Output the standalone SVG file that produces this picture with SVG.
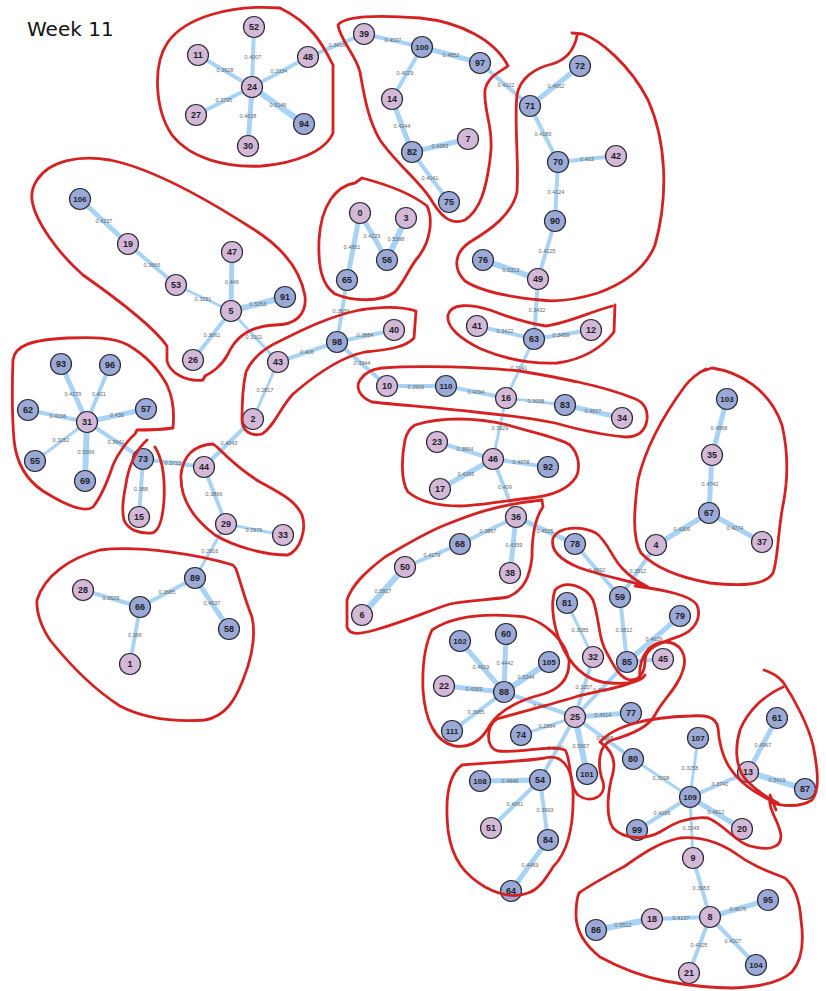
<svg xmlns="http://www.w3.org/2000/svg" width="826" height="991" viewBox="0 0 826 991">
<style>
.e{stroke:#a9d3f5;stroke-linecap:round}
.w3{stroke-width:3}.w4{stroke-width:4}.w5{stroke-width:5}.w6{stroke-width:6}
.el{font-family:"Liberation Sans",Arial,sans-serif;font-size:5.5px;fill:#666;text-anchor:middle}
.p{fill:#d3b9d7;stroke:#2a2a35;stroke-width:1.2}
.b{fill:#9ba9d6;stroke:#2a2a35;stroke-width:1.2}
.nl{font-family:"Liberation Sans",Arial,sans-serif;font-size:9px;font-weight:bold;fill:#1e1e28;text-anchor:middle}
.nl3{font-size:8px}
.h{fill:none;stroke:#d42222;stroke-width:2.8;stroke-linecap:round;stroke-linejoin:round}
.title{font-family:"DejaVu Sans",Verdana,sans-serif;font-size:20px;fill:#111}
</style>
<rect width="826" height="991" fill="#fff"/>
<text class="title" x="27" y="36">Week 11</text>

<g id="connectors">
<line class="e w4" x1="252" y1="87" x2="254" y2="27"/><text class="el" x="253" y="59">0.4007</text>
<line class="e w4" x1="252" y1="87" x2="198" y2="55"/><text class="el" x="225" y="72">0.3928</text>
<line class="e w4" x1="252" y1="87" x2="308" y2="57"/><text class="el" x="279" y="73">0.3334</text>
<line class="e w4" x1="252" y1="87" x2="196" y2="115"/><text class="el" x="224" y="102">0.3795</text>
<line class="e w6" x1="252" y1="87" x2="304" y2="124"/><text class="el" x="278" y="107">0.5146</text>
<line class="e w5" x1="252" y1="87" x2="248" y2="146"/><text class="el" x="248" y="118">0.4638</text>
<line class="e w4" x1="308" y1="57" x2="364" y2="34"/><text class="el" x="337" y="47">0.3416</text>
<line class="e w4" x1="364" y1="34" x2="422" y2="47"/><text class="el" x="393" y="42">0.4027</text>
<line class="e w5" x1="422" y1="47" x2="480" y2="63"/><text class="el" x="451" y="57">0.4852</text>
<line class="e w4" x1="422" y1="47" x2="392" y2="99"/><text class="el" x="405" y="75">0.4029</text>
<line class="e w5" x1="392" y1="99" x2="412" y2="152"/><text class="el" x="402" y="128">0.4244</text>
<line class="e w5" x1="412" y1="152" x2="468" y2="139"/><text class="el" x="440" y="148">0.4383</text>
<line class="e w4" x1="412" y1="152" x2="449" y2="202"/><text class="el" x="430" y="180">0.4141</text>
<line class="e w4" x1="480" y1="63" x2="530" y2="106"/><text class="el" x="506" y="87">0.4102</text>
<line class="e w5" x1="530" y1="106" x2="580" y2="66"/><text class="el" x="556" y="88">0.4962</text>
<line class="e w4" x1="530" y1="106" x2="558" y2="162"/><text class="el" x="543" y="136">0.4189</text>
<line class="e w4" x1="558" y1="162" x2="616" y2="156"/><text class="el" x="587" y="161">0.403</text>
<line class="e w4" x1="558" y1="162" x2="555" y2="221"/><text class="el" x="556" y="194">0.4124</text>
<line class="e w4" x1="555" y1="221" x2="538" y2="279"/><text class="el" x="547" y="253">0.4125</text>
<line class="e w6" x1="483" y1="260" x2="538" y2="279"/><text class="el" x="511" y="272">0.5313</text>
<line class="e w4" x1="538" y1="279" x2="534" y2="339"/><text class="el" x="537" y="312">0.3432</text>
<line class="e w4" x1="477" y1="326" x2="534" y2="339"/><text class="el" x="505" y="333">0.3422</text>
<line class="e w4" x1="534" y1="339" x2="591" y2="330"/><text class="el" x="561" y="337">0.3459</text>
<line class="e w3" x1="534" y1="339" x2="506" y2="398"/><text class="el" x="519" y="370">0.3141</text>
<line class="e w5" x1="80" y1="199" x2="128" y2="244"/><text class="el" x="104" y="223">0.4237</text>
<line class="e w4" x1="128" y1="244" x2="176" y2="285"/><text class="el" x="152" y="267">0.3666</text>
<line class="e w3" x1="176" y1="285" x2="231" y2="311"/><text class="el" x="203" y="301">0.3291</text>
<line class="e w5" x1="232" y1="252" x2="231" y2="311"/><text class="el" x="232" y="284">0.446</text>
<line class="e w6" x1="231" y1="311" x2="285" y2="297"/><text class="el" x="258" y="306">0.5053</text>
<line class="e w4" x1="231" y1="311" x2="193" y2="360"/><text class="el" x="212" y="337">0.3661</text>
<line class="e w3" x1="231" y1="311" x2="278" y2="362"/><text class="el" x="254" y="339">0.3101</text>
<line class="e w5" x1="360" y1="213" x2="347" y2="280"/><text class="el" x="352" y="249">0.4861</text>
<line class="e w5" x1="360" y1="213" x2="387" y2="260"/><text class="el" x="372" y="238">0.4229</text>
<line class="e w6" x1="406" y1="218" x2="387" y2="260"/><text class="el" x="396" y="241">0.5398</text>
<line class="e w4" x1="347" y1="280" x2="337" y2="342"/><text class="el" x="341" y="313">0.3639</text>
<line class="e w4" x1="337" y1="342" x2="394" y2="330"/><text class="el" x="365" y="337">0.3884</text>
<line class="e w4" x1="337" y1="342" x2="278" y2="362"/><text class="el" x="307" y="354">0.406</text>
<line class="e w4" x1="337" y1="342" x2="387" y2="386"/><text class="el" x="362" y="365">0.3344</text>
<line class="e w3" x1="278" y1="362" x2="253" y2="419"/><text class="el" x="265" y="392">0.2817</text>
<line class="e w4" x1="253" y1="419" x2="204" y2="467"/><text class="el" x="229" y="445">0.4043</text>
<line class="e w4" x1="387" y1="386" x2="446" y2="386"/><text class="el" x="416" y="389">0.3909</text>
<line class="e w4" x1="446" y1="386" x2="506" y2="398"/><text class="el" x="476" y="394">0.4094</text>
<line class="e w3" x1="506" y1="398" x2="565" y2="405"/><text class="el" x="536" y="403">0.3058</text>
<line class="e w5" x1="565" y1="405" x2="622" y2="418"/><text class="el" x="593" y="413">0.4827</text>
<line class="e w3" x1="506" y1="398" x2="493" y2="459"/><text class="el" x="500" y="430">0.3329</text>
<line class="e w4" x1="437" y1="442" x2="493" y2="459"/><text class="el" x="465" y="451">0.3864</text>
<line class="e w4" x1="493" y1="459" x2="548" y2="467"/><text class="el" x="521" y="464">0.4078</text>
<line class="e w5" x1="493" y1="459" x2="440" y2="489"/><text class="el" x="466" y="476">0.4266</text>
<line class="e w4" x1="493" y1="459" x2="516" y2="517"/><text class="el" x="505" y="489">0.409</text>
<line class="e w4" x1="516" y1="517" x2="460" y2="544"/><text class="el" x="488" y="533">0.3867</text>
<line class="e w5" x1="516" y1="517" x2="510" y2="573"/><text class="el" x="514" y="547">0.4359</text>
<line class="e w4" x1="460" y1="544" x2="405" y2="567"/><text class="el" x="432" y="557">0.4179</text>
<line class="e w6" x1="405" y1="567" x2="362" y2="615"/><text class="el" x="383" y="593">0.5817</text>
<line class="e w5" x1="516" y1="517" x2="575" y2="544"/><text class="el" x="545" y="533">0.4525</text>
<line class="e w4" x1="575" y1="544" x2="620" y2="597"/><text class="el" x="597" y="572">0.4092</text>
<line class="e w4" x1="656" y1="545" x2="620" y2="597"/><text class="el" x="638" y="573">0.3512</text>
<line class="e w4" x1="620" y1="597" x2="627" y2="662"/><text class="el" x="624" y="632">0.3812</text>
<line class="e w3" x1="567" y1="603" x2="593" y2="657"/><text class="el" x="580" y="632">0.3085</text>
<line class="e w5" x1="627" y1="662" x2="680" y2="616"/><text class="el" x="654" y="641">0.4629</text>
<line class="e w4" x1="627" y1="662" x2="663" y2="659"/>
<line class="e w4" x1="593" y1="657" x2="575" y2="717"/><text class="el" x="584" y="689">0.3357</text>
<line class="e w4" x1="627" y1="662" x2="575" y2="717"/><text class="el" x="600" y="692">0.358</text>
<line class="e w5" x1="575" y1="717" x2="631" y2="713"/><text class="el" x="603" y="717">0.4514</text>
<line class="e w3" x1="575" y1="717" x2="521" y2="735"/><text class="el" x="547" y="728">0.2964</text>
<line class="e w4" x1="504" y1="692" x2="575" y2="717"/><text class="el" x="540" y="708">0.368</text>
<line class="e w6" x1="575" y1="717" x2="587" y2="774"/><text class="el" x="581" y="748">0.5067</text>
<line class="e w4" x1="575" y1="717" x2="540" y2="780"/><text class="el" x="556" y="750">0.3341</text>
<line class="e w4" x1="575" y1="717" x2="633" y2="759"/><text class="el" x="605" y="740">0.3868</text>
<line class="e w5" x1="504" y1="692" x2="460" y2="641"/><text class="el" x="481" y="669">0.4619</text>
<line class="e w5" x1="504" y1="692" x2="506" y2="634"/><text class="el" x="505" y="665">0.4442</text>
<line class="e w6" x1="504" y1="692" x2="549" y2="662"/><text class="el" x="526" y="679">0.5244</text>
<line class="e w5" x1="504" y1="692" x2="444" y2="686"/><text class="el" x="474" y="691">0.4369</text>
<line class="e w4" x1="504" y1="692" x2="452" y2="731"/><text class="el" x="476" y="714">0.3985</text>
<line class="e w5" x1="540" y1="780" x2="480" y2="781"/><text class="el" x="510" y="783">0.4848</text>
<line class="e w4" x1="540" y1="780" x2="491" y2="828"/><text class="el" x="515" y="806">0.4061</text>
<line class="e w4" x1="540" y1="780" x2="548" y2="840"/><text class="el" x="545" y="812">0.3993</text>
<line class="e w5" x1="548" y1="840" x2="511" y2="891"/><text class="el" x="530" y="867">0.4483</text>
<line class="e w3" x1="633" y1="759" x2="690" y2="797"/><text class="el" x="661" y="780">0.3098</text>
<line class="e w3" x1="698" y1="738" x2="690" y2="797"/><text class="el" x="690" y="770">0.3258</text>
<line class="e w4" x1="690" y1="797" x2="748" y2="772"/><text class="el" x="720" y="786">0.3742</text>
<line class="e w5" x1="748" y1="772" x2="777" y2="718"/><text class="el" x="763" y="747">0.4967</text>
<line class="e w6" x1="748" y1="772" x2="805" y2="789"/><text class="el" x="777" y="782">0.5419</text>
<line class="e w4" x1="690" y1="797" x2="637" y2="830"/><text class="el" x="662" y="815">0.4166</text>
<line class="e w5" x1="690" y1="797" x2="742" y2="829"/><text class="el" x="716" y="814">0.4912</text>
<line class="e w3" x1="690" y1="797" x2="693" y2="858"/><text class="el" x="691" y="830">0.3249</text>
<line class="e w4" x1="693" y1="858" x2="710" y2="917"/><text class="el" x="701" y="890">0.3953</text>
<line class="e w5" x1="710" y1="917" x2="768" y2="900"/><text class="el" x="738" y="911">0.4676</text>
<line class="e w4" x1="710" y1="917" x2="652" y2="919"/><text class="el" x="681" y="920">0.4137</text>
<line class="e w6" x1="652" y1="919" x2="596" y2="930"/><text class="el" x="623" y="927">0.5512</text>
<line class="e w4" x1="710" y1="917" x2="689" y2="973"/><text class="el" x="699" y="947">0.4105</text>
<line class="e w4" x1="710" y1="917" x2="756" y2="965"/><text class="el" x="733" y="943">0.4207</text>
<line class="e w5" x1="87" y1="422" x2="61" y2="364"/><text class="el" x="73" y="396">0.4279</text>
<line class="e w4" x1="87" y1="422" x2="110" y2="365"/><text class="el" x="99" y="396">0.421</text>
<line class="e w4" x1="87" y1="422" x2="28" y2="410"/><text class="el" x="58" y="418">0.4196</text>
<line class="e w5" x1="87" y1="422" x2="146" y2="409"/><text class="el" x="117" y="417">0.436</text>
<line class="e w3" x1="87" y1="422" x2="35" y2="461"/><text class="el" x="61" y="442">0.3262</text>
<line class="e w6" x1="87" y1="422" x2="85" y2="481"/><text class="el" x="86" y="454">0.5566</text>
<line class="e w4" x1="87" y1="422" x2="143" y2="459"/><text class="el" x="116" y="444">0.3641</text>
<line class="e w4" x1="143" y1="459" x2="204" y2="467"/><text class="el" x="173" y="465">0.3723</text>
<line class="e w4" x1="143" y1="459" x2="139" y2="517"/><text class="el" x="141" y="491">0.388</text>
<line class="e w4" x1="204" y1="467" x2="226" y2="524"/><text class="el" x="214" y="496">0.3866</text>
<line class="e w3" x1="226" y1="524" x2="283" y2="535"/><text class="el" x="254" y="532">0.2976</text>
<line class="e w3" x1="226" y1="524" x2="195" y2="578"/><text class="el" x="210" y="553">0.2916</text>
<line class="e w4" x1="195" y1="578" x2="140" y2="607"/><text class="el" x="167" y="594">0.3685</text>
<line class="e w4" x1="140" y1="607" x2="83" y2="590"/><text class="el" x="111" y="600">0.3629</text>
<line class="e w5" x1="195" y1="578" x2="229" y2="629"/><text class="el" x="212" y="605">0.4637</text>
<line class="e w4" x1="140" y1="607" x2="130" y2="664"/><text class="el" x="135" y="637">0.366</text>
<line class="e w5" x1="709" y1="513" x2="712" y2="455"/><text class="el" x="710" y="486">0.4742</text>
<line class="e w5" x1="727" y1="399" x2="712" y2="455"/><text class="el" x="719" y="430">0.4868</text>
<line class="e w5" x1="709" y1="513" x2="656" y2="545"/><text class="el" x="682" y="531">0.4306</text>
<line class="e w5" x1="709" y1="513" x2="762" y2="542"/><text class="el" x="735" y="530">0.4274</text>
</g>

<g id="nodes">
<g id="n52"><circle class="p" cx="254" cy="27" r="10.5"/><text class="nl" x="254" y="30.2">52</text></g>
<g id="n11"><circle class="p" cx="198" cy="55" r="10.5"/><text class="nl" x="198" y="58.2">11</text></g>
<g id="n48"><circle class="p" cx="308" cy="57" r="10.5"/><text class="nl" x="308" y="60.2">48</text></g>
<g id="n24"><circle class="p" cx="252" cy="87" r="10.5"/><text class="nl" x="252" y="90.2">24</text></g>
<g id="n27"><circle class="p" cx="196" cy="115" r="10.5"/><text class="nl" x="196" y="118.2">27</text></g>
<g id="n94"><circle class="b" cx="304" cy="124" r="10.5"/><text class="nl" x="304" y="127.2">94</text></g>
<g id="n30"><circle class="p" cx="248" cy="146" r="10.5"/><text class="nl" x="248" y="149.2">30</text></g>
<g id="n39"><circle class="p" cx="364" cy="34" r="10.5"/><text class="nl" x="364" y="37.2">39</text></g>
<g id="n100"><circle class="b" cx="422" cy="47" r="10.5"/><text class="nl nl3" x="422" y="49.9">100</text></g>
<g id="n97"><circle class="b" cx="480" cy="63" r="10.5"/><text class="nl" x="480" y="66.2">97</text></g>
<g id="n14"><circle class="p" cx="392" cy="99" r="10.5"/><text class="nl" x="392" y="102.2">14</text></g>
<g id="n7"><circle class="p" cx="468" cy="139" r="10.5"/><text class="nl" x="468" y="142.2">7</text></g>
<g id="n82"><circle class="b" cx="412" cy="152" r="10.5"/><text class="nl" x="412" y="155.2">82</text></g>
<g id="n75"><circle class="b" cx="449" cy="202" r="10.5"/><text class="nl" x="449" y="205.2">75</text></g>
<g id="n72"><circle class="b" cx="580" cy="66" r="10.5"/><text class="nl" x="580" y="69.2">72</text></g>
<g id="n71"><circle class="b" cx="530" cy="106" r="10.5"/><text class="nl" x="530" y="109.2">71</text></g>
<g id="n70"><circle class="b" cx="558" cy="162" r="10.5"/><text class="nl" x="558" y="165.2">70</text></g>
<g id="n42"><circle class="p" cx="616" cy="156" r="10.5"/><text class="nl" x="616" y="159.2">42</text></g>
<g id="n90"><circle class="b" cx="555" cy="221" r="10.5"/><text class="nl" x="555" y="224.2">90</text></g>
<g id="n76"><circle class="b" cx="483" cy="260" r="10.5"/><text class="nl" x="483" y="263.2">76</text></g>
<g id="n49"><circle class="p" cx="538" cy="279" r="10.5"/><text class="nl" x="538" y="282.2">49</text></g>
<g id="n106"><circle class="b" cx="80" cy="199" r="10.5"/><text class="nl nl3" x="80" y="201.9">106</text></g>
<g id="n19"><circle class="p" cx="128" cy="244" r="10.5"/><text class="nl" x="128" y="247.2">19</text></g>
<g id="n47"><circle class="p" cx="232" cy="252" r="10.5"/><text class="nl" x="232" y="255.2">47</text></g>
<g id="n53"><circle class="p" cx="176" cy="285" r="10.5"/><text class="nl" x="176" y="288.2">53</text></g>
<g id="n5"><circle class="p" cx="231" cy="311" r="10.5"/><text class="nl" x="231" y="314.2">5</text></g>
<g id="n91"><circle class="b" cx="285" cy="297" r="10.5"/><text class="nl" x="285" y="300.2">91</text></g>
<g id="n26"><circle class="p" cx="193" cy="360" r="10.5"/><text class="nl" x="193" y="363.2">26</text></g>
<g id="n0"><circle class="p" cx="360" cy="213" r="10.5"/><text class="nl" x="360" y="216.2">0</text></g>
<g id="n3"><circle class="p" cx="406" cy="218" r="10.5"/><text class="nl" x="406" y="221.2">3</text></g>
<g id="n56"><circle class="b" cx="387" cy="260" r="10.5"/><text class="nl" x="387" y="263.2">56</text></g>
<g id="n65"><circle class="b" cx="347" cy="280" r="10.5"/><text class="nl" x="347" y="283.2">65</text></g>
<g id="n98"><circle class="b" cx="337" cy="342" r="10.5"/><text class="nl" x="337" y="345.2">98</text></g>
<g id="n40"><circle class="p" cx="394" cy="330" r="10.5"/><text class="nl" x="394" y="333.2">40</text></g>
<g id="n43"><circle class="p" cx="278" cy="362" r="10.5"/><text class="nl" x="278" y="365.2">43</text></g>
<g id="n2"><circle class="p" cx="253" cy="419" r="10.5"/><text class="nl" x="253" y="422.2">2</text></g>
<g id="n41"><circle class="p" cx="477" cy="326" r="10.5"/><text class="nl" x="477" y="329.2">41</text></g>
<g id="n63"><circle class="b" cx="534" cy="339" r="10.5"/><text class="nl" x="534" y="342.2">63</text></g>
<g id="n12"><circle class="p" cx="591" cy="330" r="10.5"/><text class="nl" x="591" y="333.2">12</text></g>
<g id="n10"><circle class="p" cx="387" cy="386" r="10.5"/><text class="nl" x="387" y="389.2">10</text></g>
<g id="n110"><circle class="b" cx="446" cy="386" r="10.5"/><text class="nl nl3" x="446" y="388.9">110</text></g>
<g id="n16"><circle class="p" cx="506" cy="398" r="10.5"/><text class="nl" x="506" y="401.2">16</text></g>
<g id="n83"><circle class="b" cx="565" cy="405" r="10.5"/><text class="nl" x="565" y="408.2">83</text></g>
<g id="n34"><circle class="p" cx="622" cy="418" r="10.5"/><text class="nl" x="622" y="421.2">34</text></g>
<g id="n93"><circle class="b" cx="61" cy="364" r="10.5"/><text class="nl" x="61" y="367.2">93</text></g>
<g id="n96"><circle class="b" cx="110" cy="365" r="10.5"/><text class="nl" x="110" y="368.2">96</text></g>
<g id="n62"><circle class="b" cx="28" cy="410" r="10.5"/><text class="nl" x="28" y="413.2">62</text></g>
<g id="n31"><circle class="p" cx="87" cy="422" r="10.5"/><text class="nl" x="87" y="425.2">31</text></g>
<g id="n57"><circle class="b" cx="146" cy="409" r="10.5"/><text class="nl" x="146" y="412.2">57</text></g>
<g id="n55"><circle class="b" cx="35" cy="461" r="10.5"/><text class="nl" x="35" y="464.2">55</text></g>
<g id="n69"><circle class="b" cx="85" cy="481" r="10.5"/><text class="nl" x="85" y="484.2">69</text></g>
<g id="n73"><circle class="b" cx="143" cy="459" r="10.5"/><text class="nl" x="143" y="462.2">73</text></g>
<g id="n44"><circle class="p" cx="204" cy="467" r="10.5"/><text class="nl" x="204" y="470.2">44</text></g>
<g id="n15"><circle class="p" cx="139" cy="517" r="10.5"/><text class="nl" x="139" y="520.2">15</text></g>
<g id="n29"><circle class="p" cx="226" cy="524" r="10.5"/><text class="nl" x="226" y="527.2">29</text></g>
<g id="n33"><circle class="p" cx="283" cy="535" r="10.5"/><text class="nl" x="283" y="538.2">33</text></g>
<g id="n23"><circle class="p" cx="437" cy="442" r="10.5"/><text class="nl" x="437" y="445.2">23</text></g>
<g id="n46"><circle class="p" cx="493" cy="459" r="10.5"/><text class="nl" x="493" y="462.2">46</text></g>
<g id="n92"><circle class="b" cx="548" cy="467" r="10.5"/><text class="nl" x="548" y="470.2">92</text></g>
<g id="n17"><circle class="p" cx="440" cy="489" r="10.5"/><text class="nl" x="440" y="492.2">17</text></g>
<g id="n103"><circle class="b" cx="727" cy="399" r="10.5"/><text class="nl nl3" x="727" y="401.9">103</text></g>
<g id="n35"><circle class="p" cx="712" cy="455" r="10.5"/><text class="nl" x="712" y="458.2">35</text></g>
<g id="n67"><circle class="b" cx="709" cy="513" r="10.5"/><text class="nl" x="709" y="516.2">67</text></g>
<g id="n4"><circle class="p" cx="656" cy="545" r="10.5"/><text class="nl" x="656" y="548.2">4</text></g>
<g id="n37"><circle class="p" cx="762" cy="542" r="10.5"/><text class="nl" x="762" y="545.2">37</text></g>
<g id="n36"><circle class="p" cx="516" cy="517" r="10.5"/><text class="nl" x="516" y="520.2">36</text></g>
<g id="n68"><circle class="b" cx="460" cy="544" r="10.5"/><text class="nl" x="460" y="547.2">68</text></g>
<g id="n50"><circle class="p" cx="405" cy="567" r="10.5"/><text class="nl" x="405" y="570.2">50</text></g>
<g id="n38"><circle class="p" cx="510" cy="573" r="10.5"/><text class="nl" x="510" y="576.2">38</text></g>
<g id="n6"><circle class="p" cx="362" cy="615" r="10.5"/><text class="nl" x="362" y="618.2">6</text></g>
<g id="n78"><circle class="b" cx="575" cy="544" r="10.5"/><text class="nl" x="575" y="547.2">78</text></g>
<g id="n59"><circle class="b" cx="620" cy="597" r="10.5"/><text class="nl" x="620" y="600.2">59</text></g>
<g id="n81"><circle class="b" cx="567" cy="603" r="10.5"/><text class="nl" x="567" y="606.2">81</text></g>
<g id="n79"><circle class="b" cx="680" cy="616" r="10.5"/><text class="nl" x="680" y="619.2">79</text></g>
<g id="n32"><circle class="p" cx="593" cy="657" r="10.5"/><text class="nl" x="593" y="660.2">32</text></g>
<g id="n85"><circle class="b" cx="627" cy="662" r="10.5"/><text class="nl" x="627" y="665.2">85</text></g>
<g id="n45"><circle class="p" cx="663" cy="659" r="10.5"/><text class="nl" x="663" y="662.2">45</text></g>
<g id="n28"><circle class="p" cx="83" cy="590" r="10.5"/><text class="nl" x="83" y="593.2">28</text></g>
<g id="n89"><circle class="b" cx="195" cy="578" r="10.5"/><text class="nl" x="195" y="581.2">89</text></g>
<g id="n66"><circle class="b" cx="140" cy="607" r="10.5"/><text class="nl" x="140" y="610.2">66</text></g>
<g id="n58"><circle class="b" cx="229" cy="629" r="10.5"/><text class="nl" x="229" y="632.2">58</text></g>
<g id="n1"><circle class="p" cx="130" cy="664" r="10.5"/><text class="nl" x="130" y="667.2">1</text></g>
<g id="n102"><circle class="b" cx="460" cy="641" r="10.5"/><text class="nl nl3" x="460" y="643.9">102</text></g>
<g id="n60"><circle class="b" cx="506" cy="634" r="10.5"/><text class="nl" x="506" y="637.2">60</text></g>
<g id="n105"><circle class="b" cx="549" cy="662" r="10.5"/><text class="nl nl3" x="549" y="664.9">105</text></g>
<g id="n22"><circle class="p" cx="444" cy="686" r="10.5"/><text class="nl" x="444" y="689.2">22</text></g>
<g id="n88"><circle class="b" cx="504" cy="692" r="10.5"/><text class="nl" x="504" y="695.2">88</text></g>
<g id="n111"><circle class="b" cx="452" cy="731" r="10.5"/><text class="nl nl3" x="452" y="733.9">111</text></g>
<g id="n25"><circle class="p" cx="575" cy="717" r="10.5"/><text class="nl" x="575" y="720.2">25</text></g>
<g id="n77"><circle class="b" cx="631" cy="713" r="10.5"/><text class="nl" x="631" y="716.2">77</text></g>
<g id="n74"><circle class="b" cx="521" cy="735" r="10.5"/><text class="nl" x="521" y="738.2">74</text></g>
<g id="n101"><circle class="b" cx="587" cy="774" r="10.5"/><text class="nl nl3" x="587" y="776.9">101</text></g>
<g id="n107"><circle class="b" cx="698" cy="738" r="10.5"/><text class="nl nl3" x="698" y="740.9">107</text></g>
<g id="n61"><circle class="b" cx="777" cy="718" r="10.5"/><text class="nl" x="777" y="721.2">61</text></g>
<g id="n80"><circle class="b" cx="633" cy="759" r="10.5"/><text class="nl" x="633" y="762.2">80</text></g>
<g id="n13"><circle class="p" cx="748" cy="772" r="10.5"/><text class="nl" x="748" y="775.2">13</text></g>
<g id="n87"><circle class="b" cx="805" cy="789" r="10.5"/><text class="nl" x="805" y="792.2">87</text></g>
<g id="n109"><circle class="b" cx="690" cy="797" r="10.5"/><text class="nl nl3" x="690" y="799.9">109</text></g>
<g id="n99"><circle class="b" cx="637" cy="830" r="10.5"/><text class="nl" x="637" y="833.2">99</text></g>
<g id="n20"><circle class="p" cx="742" cy="829" r="10.5"/><text class="nl" x="742" y="832.2">20</text></g>
<g id="n108"><circle class="b" cx="480" cy="781" r="10.5"/><text class="nl nl3" x="480" y="783.9">108</text></g>
<g id="n54"><circle class="b" cx="540" cy="780" r="10.5"/><text class="nl" x="540" y="783.2">54</text></g>
<g id="n51"><circle class="p" cx="491" cy="828" r="10.5"/><text class="nl" x="491" y="831.2">51</text></g>
<g id="n84"><circle class="b" cx="548" cy="840" r="10.5"/><text class="nl" x="548" y="843.2">84</text></g>
<g id="n64"><circle class="b" cx="511" cy="891" r="10.5"/><text class="nl" x="511" y="894.2">64</text></g>
<g id="n9"><circle class="p" cx="693" cy="858" r="10.5"/><text class="nl" x="693" y="861.2">9</text></g>
<g id="n95"><circle class="b" cx="768" cy="900" r="10.5"/><text class="nl" x="768" y="903.2">95</text></g>
<g id="n18"><circle class="p" cx="652" cy="919" r="10.5"/><text class="nl" x="652" y="922.2">18</text></g>
<g id="n8"><circle class="p" cx="710" cy="917" r="10.5"/><text class="nl" x="710" y="920.2">8</text></g>
<g id="n86"><circle class="b" cx="596" cy="930" r="10.5"/><text class="nl" x="596" y="933.2">86</text></g>
<g id="n21"><circle class="p" cx="689" cy="973" r="10.5"/><text class="nl" x="689" y="976.2">21</text></g>
<g id="n104"><circle class="b" cx="756" cy="965" r="10.5"/><text class="nl nl3" x="756" y="967.9">104</text></g>
</g>

<g id="hulls">
<path class="h" d="M280,8 C230,4 185,18 168,42 C152,65 155,110 172,135 C190,158 225,168 262,166 C295,163 325,152 333,133 L333,65 C325,50 315,25 280,8 Z"/>
<path class="h" d="M338,25 C345,15 380,15 420,18 C460,22 495,40 508,66 C500,72 488,76 485,90 C483,110 495,130 490,160 C486,190 480,210 465,220 C450,226 440,215 430,198 C418,180 395,162 380,140 C368,120 364,95 360,72 C356,55 340,40 338,25 Z"/>
<path class="h" d="M572,33 L583,34 C600,40 630,65 648,100 C666,140 669,195 655,245 C646,268 625,283 598,293 C575,300 555,302 540,300 C510,297 480,291 465,281 C452,268 455,252 470,242 C490,230 512,215 517,192 C519,160 514,120 517,95 C520,78 535,68 552,64 C566,60 574,50 577,36"/>
<path class="h" d="M37,180 C50,160 80,155 110,160 C150,168 200,195 250,227 C280,245 300,268 305,296 C307,315 295,325 275,325 C252,326 236,336 228,354 C221,367 212,372 205,376 L203,380 C186,382 170,373 167,361 L167,346 C155,329 120,301 83,275 C60,255 35,222 32,200 C31,192 33,186 37,180 Z"/>
<path class="h" d="M355,183 L362,178 C385,184 412,194 427,206 C433,218 431,240 419,256 C410,266 405,281 395,292 C380,303 352,301 335,294 C322,285 318,268 319,240 C321,205 336,186 355,183 Z"/>
<path class="h" d="M242,420 C242,400 243,385 246,372 C252,358 264,348 282,340 C302,330 330,316 360,310 C385,306 403,307 416,311 L414,338 C405,348 385,350 365,352 C340,357 315,375 293,394 C280,408 273,428 262,434 C250,437 242,430 242,420 Z"/>
<path class="h" d="M615,305 L614,332 C602,348 582,360 557,363 C532,364 505,359 481,349 C461,339 446,328 448,315 C451,303 470,304 490,310 C508,317 526,323 546,326 C568,323 590,312 612,306"/>
<path class="h" d="M382,368 C420,365 480,367 520,371 C560,378 600,385 633,398 C645,402 648,410 647,420 C645,432 638,437 626,437 C600,435 580,430 555,423 C530,418 505,415 475,412 C440,408 400,405 372,402 C360,397 355,388 360,380 C365,372 372,369 382,368 Z"/>
<path class="h" d="M415,425 C440,417 475,417 508,425 C530,432 560,438 570,445 C580,455 580,470 576,477 C568,490 550,496 530,498 C510,500 480,506 460,506 C440,506 420,502 408,492 C400,480 402,455 405,440 C407,432 410,428 415,425 Z"/>
<path class="h" d="M13,360 C15,345 32,340 67,338 C92,337 113,337 128,345 C145,355 158,368 167,385 C174,400 174,418 173,428 C160,430 147,430 137,430 L135,434 C128,440 118,453 113,465 C108,480 101,497 93,507 C85,513 67,506 43,491 C25,479 16,460 14,440 C12,415 12,385 13,360 Z"/>
<path class="h" d="M147,440 C138,448 131,460 127,478 C124,495 121,508 124,520 C128,530 140,534 152,533 C160,531 163,515 164,500 C165,480 163,460 155,447"/>
<path class="h" d="M213,444 C195,445 183,455 181,475 C180,500 195,520 215,535 C235,547 265,555 288,555 C300,550 307,530 302,515 C295,500 280,493 260,482 C240,470 225,455 217,447 Z"/>
<path class="h" d="M37,600 C45,575 70,558 100,550 C140,545 200,555 233,565 L236,569 C240,580 245,600 252,617 C256,635 253,655 243,680 C235,700 226,716 205,720 C175,722 145,719 120,706 C95,690 70,665 50,640 C40,625 36,610 37,600 Z"/>
<path class="h" d="M542,500 L543,507 C535,518 532,535 532,557 C530,575 525,590 508,597 C490,600 470,600 450,604 C430,610 410,620 375,630 C360,634 350,636 347,627 L347,600 C352,585 365,572 385,557 C405,545 425,533 445,525 C470,515 495,505 542,500 Z"/>
<path class="h" d="M700,372 L712,368 C740,372 770,390 782,425 C789,455 787,485 783,505 C778,530 778,560 773,573 C765,586 740,586 710,583 C682,578 657,570 641,553 C632,538 634,510 638,480 C645,450 660,420 685,386 C692,377 700,372 706,369"/>
<path class="h" d="M645,586 C625,580 600,575 580,568 C560,560 550,550 553,538 C558,527 580,525 596,533 C608,542 612,558 622,568 C630,577 638,582 648,587"/>
<path class="h" d="M645,675 C640,683 625,684 610,683 C590,682 575,670 565,652 C553,630 550,605 555,590 C565,580 585,585 593,600 C600,620 598,640 608,655 C615,668 620,678 630,680 C640,680 645,672 645,660 C645,648 660,643 680,636 C695,630 702,618 697,605 C690,595 665,590 635,586"/>
<path class="h" d="M432,630 C450,618 480,612 525,617 C545,622 565,640 569,660 C570,678 560,690 540,695 C520,700 500,710 490,725 C482,740 470,748 455,746 C435,742 425,720 423,690 C422,665 425,645 432,630 Z"/>
<path class="h" d="M640,678 C638,657 650,642 665,642 C680,642 688,655 683,670 C678,688 662,700 655,715 C648,728 630,735 612,740 C598,745 597,765 603,782 C607,797 590,804 578,795 C568,785 572,760 565,750 C550,744 520,754 498,751 C485,748 486,725 497,719 C520,712 550,705 575,697 C600,690 625,688 640,678 Z"/>
<path class="h" d="M462,765 C490,762 520,762 545,758 C560,754 572,765 573,790 C574,820 570,850 553,867 C545,880 538,890 528,893 C515,898 500,895 485,887 C465,875 452,860 448,830 C445,800 448,775 462,765 Z"/>
<path class="h" d="M600,742 C615,725 650,717 690,716 C705,715 716,716 718,728 C720,755 728,780 770,800 C768,810 780,822 781,836 C781,850 765,850 750,846 C735,842 725,825 708,818 C690,816 675,822 660,832 C645,840 625,840 613,828 C605,815 608,790 613,773 C616,760 612,750 600,742 Z"/>
<path class="h" d="M764,670 C770,672 778,676 783,682 C795,700 808,725 813,745 C818,770 820,790 812,800 C800,808 780,806 770,802"/>
<path class="h" d="M783,687 C765,695 748,710 740,730 C734,750 736,770 748,782 C758,792 768,798 778,803"/>
<path class="h" d="M770,795 L776,810"/>
<path class="h" d="M579,893 C590,885 605,877 625,866 C645,852 660,842 680,838 C703,836 720,843 735,853 C752,866 770,872 785,878 C797,888 800,905 801,920 C804,940 802,960 792,972 C780,983 760,987 733,988 C710,988 686,985 665,981 C645,977 620,968 600,957 C585,945 576,930 576,915 C576,905 577,898 579,893 Z"/>
</g>
</svg>
